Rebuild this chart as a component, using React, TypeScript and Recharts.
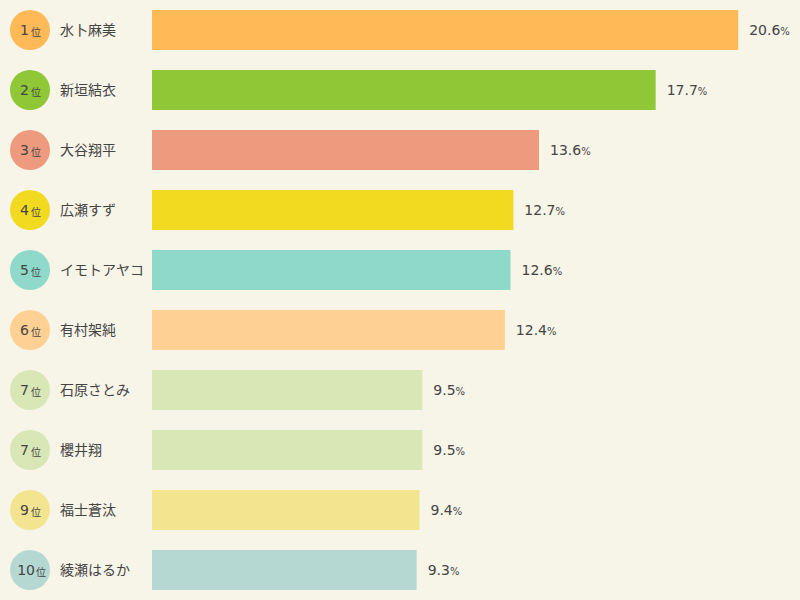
import React from "react";
import { BarChart, Bar, XAxis, YAxis, Cell, LabelList } from "recharts";

const names = ["水卜麻美", "新垣結衣", "大谷翔平", "広瀬すず", "イモトアヤコ", "有村架純", "石原さとみ", "櫻井翔", "福士蒼汰", "綾瀬はるか"];
const ranks = [1, 2, 3, 4, 5, 6, 7, 7, 9, 10];
const shares = [20.6, 17.7, 13.6, 12.7, 12.6, 12.4, 9.5, 9.5, 9.4, 9.3];
const COLORS = ["#FFB957", "#8FC736", "#EE9A7E", "#F2DA20", "#8FD9CB", "#FFD093", "#D8E7B5", "#D8E7B5", "#F3E590", "#B5D9D2"];

const data = names.map((name, i) => ({ name, rank: ranks[i], value: shares[i] }));

const TEXT = "#444444";
const JP = "'Noto Sans CJK JP', 'DejaVu Sans', sans-serif";
const NUM = "'DejaVu Sans', sans-serif";

const NameTick = (props: any) => {
  const { y, payload, index } = props;
  const d = data[index] ?? data.find((r) => r.name === payload.value);
  return (
    <g>
      <circle cx={30} cy={y} r={20} fill={COLORS[index]} />
      <text x={d.rank >= 10 ? 35 : 29} y={y + 5} textAnchor="end" fontFamily={NUM} fontSize={14} fill={TEXT}>
        {d.rank}
      </text>
      <text x={d.rank >= 10 ? 36 : 31} y={y + 6} fontFamily={JP} fontSize={10} fill={TEXT}>
        位
      </text>
      <text x={60} y={y + 5} fontFamily={JP} fontSize={14} fill={TEXT}>
        {payload.value}
      </text>
    </g>
  );
};

const ValueLabel = (props: any) => {
  const { x, y, width, height, value } = props;
  return (
    <text x={x + width + 11} y={y + height / 2 + 5} fontFamily={NUM} fontSize={14} fill={TEXT}>
      {value.toFixed(1)}
      <tspan fontSize={10}>%</tspan>
    </text>
  );
};

export default function App() {
  return (
    <div style={{ position: "absolute", left: 0, top: 0, width: 800, height: 600, background: "#F7F4E8" }}>
      <BarChart
        width={800}
        height={600}
        data={data}
        layout="vertical"
        margin={{ top: 0, right: 22, bottom: 0, left: 0 }}
        barCategoryGap={10}
      >
        <XAxis type="number" domain={[0, 22]} hide />
        <YAxis type="category" dataKey="name" width={152} axisLine={false} tickLine={false} tick={<NameTick />} interval={0} />
        <Bar dataKey="value" isAnimationActive={false}>
          {data.map((_, i) => (
            <Cell key={`cell-${i}`} fill={COLORS[i]} />
          ))}
          <LabelList dataKey="value" content={<ValueLabel />} />
        </Bar>
      </BarChart>
    </div>
  );
}
